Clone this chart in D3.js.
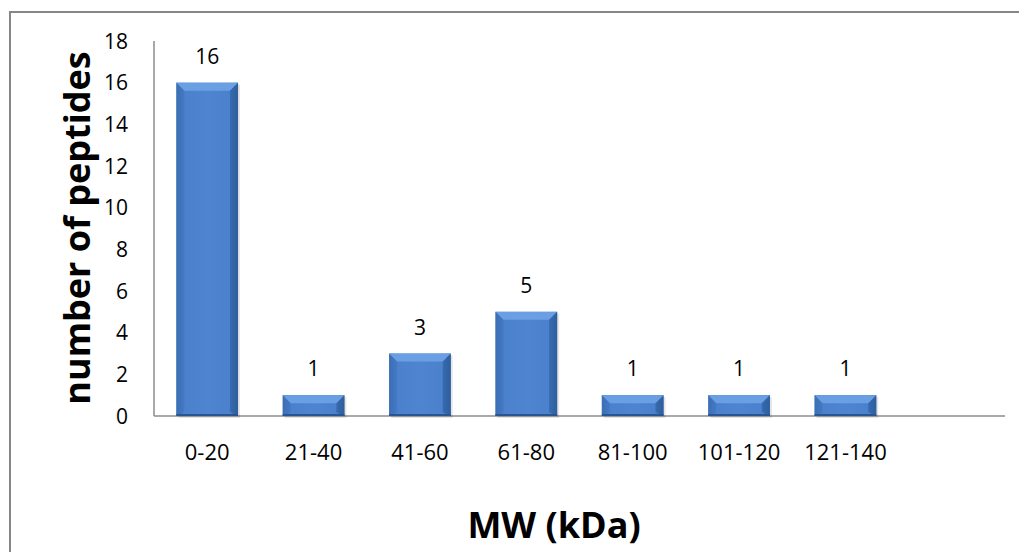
<!DOCTYPE html>
<html>
<head>
<meta charset="utf-8">
<script src="https://cdnjs.cloudflare.com/ajax/libs/d3/7.8.5/d3.min.js"></script>
<style>
  body { margin:0; background:#fff; }
  text { font-family: "Open Sans", "Liberation Sans", sans-serif; }
</style>
</head>
<body>
<div id="plot" style="width:1019px;height:552px"></div>
<script>
// chart data
var categories = ['0-20','21-40','41-60','61-80','81-100','101-120','121-140',''];
var values = [16, 1, 3, 5, 1, 1, 1, null];
var yTicks = [0,2,4,6,8,10,12,14,16,18];

var W = 1019, H = 552;
var m = {t:41, l:154, r:14, b:136};

var svg = d3.select('#plot').append('svg')
  .attr('width', W).attr('height', H);

// outer frame (runs off the right/bottom edge)
svg.append('path')
  .attr('d', 'M10,560 L10,12 L1030,12')
  .attr('fill','none').attr('stroke','#878787').attr('stroke-width',2);

var defs = svg.append('defs');
var g1 = defs.append('linearGradient').attr('id','barGrad')
  .attr('x1','0').attr('x2','1').attr('y1','0').attr('y2','0');
g1.append('stop').attr('offset','0').attr('stop-color','#3566a8');
g1.append('stop').attr('offset','0.12').attr('stop-color','#4a80cc');
g1.append('stop').attr('offset','0.5').attr('stop-color','#4f85d0');
g1.append('stop').attr('offset','0.88').attr('stop-color','#4a80cc');
g1.append('stop').attr('offset','1').attr('stop-color','#2e5c99');

var x = d3.scaleBand().domain(categories)
  .range([m.l, W - m.r]).paddingInner(0.42).paddingOuter(0.21);
var y = d3.scaleLinear().domain([0,18]).range([H - m.b, m.t]);

// axes
svg.append('line').attr('x1', m.l).attr('x2', m.l)
  .attr('y1', y(18)).attr('y2', y(0))
  .attr('stroke','#8c8c8c').attr('stroke-width',1.5);
svg.append('line').attr('x1', m.l).attr('x2', W - m.r)
  .attr('y1', y(0)).attr('y2', y(0))
  .attr('stroke','#8c8c8c').attr('stroke-width',1.5);

svg.selectAll('.ytick').data(yTicks).enter().append('text')
  .attr('x', 128).attr('y', function(d){ return y(d); })
  .attr('dy','0.36em').attr('text-anchor','end')
  .attr('font-size',21).attr('fill','#000')
  .text(function(d){ return d; });

svg.selectAll('.xtick').data(categories).enter().append('text')
  .attr('x', function(d){ return x(d) + x.bandwidth()/2; })
  .attr('y', 460).attr('text-anchor','middle')
  .attr('font-size',22).attr('fill','#000')
  .text(function(d){ return d; });

// bars with bevel look
var data = categories.map(function(c,i){ return {c:c, v:values[i]}; })
  .filter(function(d){ return d.v != null; });

var bars = svg.selectAll('.bar').data(data).enter().append('g');
bars.each(function(d){
  var g = d3.select(this);
  var x0 = x(d.c), w = x.bandwidth(), y0 = y(d.v), h = y(0) - y(d.v);
  var b = Math.min(8, h/2);
  g.append('rect').attr('x', x0+2).attr('y', y0+2).attr('width', w).attr('height', h)
    .attr('fill','#000').attr('opacity',0.1);
  g.append('rect').attr('x', x0).attr('y', y0).attr('width', w).attr('height', h)
    .attr('fill','url(#barGrad)');
  // top bevel
  g.append('path')
    .attr('d','M'+x0+','+y0+' L'+(x0+w)+','+y0+' L'+(x0+w-b)+','+(y0+b)+' L'+(x0+b)+','+(y0+b)+' Z')
    .attr('fill','#6a9fe3');
  // left bevel
  g.append('path')
    .attr('d','M'+x0+','+y0+' L'+(x0+b)+','+(y0+b)+' L'+(x0+b)+','+(y0+h-b/2)+' L'+x0+','+(y0+h)+' Z')
    .attr('fill','#3f74bd').attr('opacity',0.6);
  // right bevel
  g.append('path')
    .attr('d','M'+(x0+w)+','+y0+' L'+(x0+w-b)+','+(y0+b)+' L'+(x0+w-b)+','+(y0+h-b/2)+' L'+(x0+w)+','+(y0+h)+' Z')
    .attr('fill','#2f5f9f').attr('opacity',0.7);
  g.append('rect').attr('x', x0).attr('y', y0+h-2).attr('width', w).attr('height', 2)
    .attr('fill','#2a5590');
  g.append('text')
    .attr('x', x0 + w/2).attr('y', y0 - 19)
    .attr('text-anchor','middle').attr('font-size',21).attr('fill','#000')
    .text(d.v);
});

// axis titles
svg.append('text')
  .attr('transform','translate(90,228) rotate(-90)')
  .attr('text-anchor','middle').attr('font-size',36).attr('font-weight','bold')
  .text('number of peptides');
svg.append('text')
  .attr('x', 554).attr('y', 538)
  .attr('text-anchor','middle').attr('font-size',36).attr('font-weight','bold')
  .text('MW (kDa)');
</script>
</body>
</html>
